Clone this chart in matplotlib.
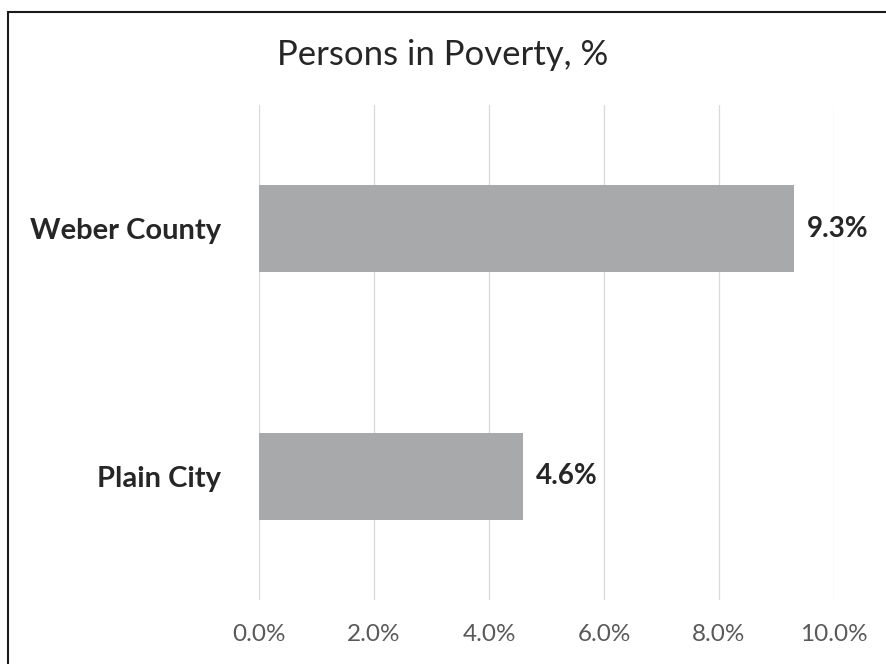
import matplotlib
matplotlib.use("Agg")
import matplotlib.pyplot as plt
from matplotlib.patches import Rectangle

# ---- data ----
places = ["Plain City", "Weber County"]
poverty_pct = [4.6, 9.3]
x_ticks = [0, 2, 4, 6, 8, 10]
x_tick_labels = ["0.0%", "2.0%", "4.0%", "6.0%", "8.0%", "10.0%"]

BAR_COLOR = "#a7a9ab"
FONT = "Lato"

fig = plt.figure(figsize=(8.86, 6.64), dpi=100)
ax = fig.add_axes([0.2923, 0.0964, 0.649, 0.7455])

ax.barh(places, poverty_pct, height=0.35, color=BAR_COLOR, zorder=2)
for i, v in enumerate(poverty_pct):
    ax.text(v + 0.22, i, f"{v:.1f}%", va="center", ha="left",
            fontsize=20, fontweight="bold", color="#262626", family=FONT)

ax.set_xlim(0, 10)
ax.set_ylim(-0.5, 1.5)
ax.set_xticks(x_ticks)
ax.set_xticklabels(x_tick_labels, fontsize=17.5, color="#595959", family=FONT)
ax.tick_params(axis="x", length=0, pad=17)
ax.tick_params(axis="y", length=0, pad=27)
for lab in ax.get_yticklabels():
    lab.set_fontsize(21)
    lab.set_fontweight("bold")
    lab.set_color("#262626")
    lab.set_family(FONT)

ax.grid(axis="x", color="#d9d9d9", lw=0.9, zorder=0)
for s in ax.spines.values():
    s.set_visible(False)

fig.text(0.5, 1 - 55 / 664, "Persons in Poverty, %", ha="center", va="center",
         fontsize=25, color="#262626", family=FONT)

# outer chart border
fig.add_artist(Rectangle((8 / 886, -0.05), 1.05, 1 - 12 / 664 + 0.05,
                         transform=fig.transFigure, fill=False,
                         edgecolor="#1a1a1a", lw=1.5))

fig.savefig("out.png", dpi=100)
